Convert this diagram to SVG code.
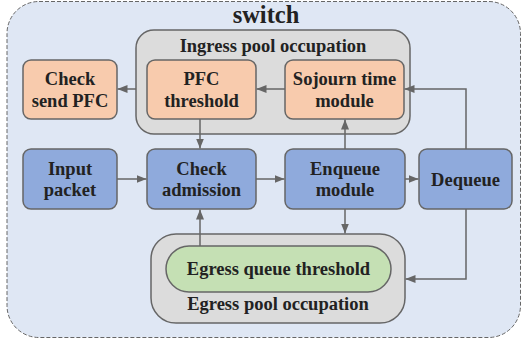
<svg xmlns="http://www.w3.org/2000/svg" width="523" height="345" viewBox="0 0 523 345">
  <defs>
    <marker id="arr" viewBox="0 0 10 8" refX="10" refY="4" markerWidth="10" markerHeight="8" markerUnits="userSpaceOnUse" orient="auto">
      <path d="M0,0 L10,4 L0,8 z" fill="#666666"/>
    </marker>
    <style>
      text { font-family: "Liberation Serif", "Times New Roman", serif; font-weight: bold; fill: #222222; text-anchor: middle; font-size: 18.5px; }
      .box { stroke: #666666; stroke-width: 1.5; }
      .blue { fill: #8faadc; }
      .orange { fill: #f8cbad; }
      .green { fill: #c5e0b4; }
      .pool { fill: #dcdcdc; stroke: #666666; stroke-width: 1.5; }
      .wire { fill: none; stroke: #666666; stroke-width: 1.5; marker-end: url(#arr); }
    </style>
  </defs>

  <!-- switch enclosure -->
  <g id="switch">
    <rect x="7" y="1.5" width="513.5" height="336" rx="32" fill="#dfe7f4" stroke="#666666" stroke-width="1" stroke-dasharray="4,2"/>
    <text x="266" y="23" style="font-size:24.5px">switch</text>
  </g>

  <!-- ingress pool -->
  <g id="ingress-pool">
    <rect class="pool" x="136" y="30" width="274" height="104" rx="18"/>
    <text x="273" y="52">Ingress pool occupation</text>
  </g>

  <!-- egress pool -->
  <g id="egress-pool">
    <rect class="pool" x="151" y="234" width="254" height="89" rx="25"/>
    <text x="278" y="310">Egress pool occupation</text>
  </g>

  <g id="check-send-pfc">
    <rect class="box orange" x="23" y="60" width="94" height="59" rx="8"/>
    <text x="70" y="85">Check</text>
    <text x="70" y="106.5">send PFC</text>
  </g>

  <g id="pfc-threshold">
    <rect class="box orange" x="147" y="60" width="109" height="59" rx="8"/>
    <text x="201.5" y="85">PFC</text>
    <text x="201.5" y="106.5">threshold</text>
  </g>

  <g id="sojourn-time">
    <rect class="box orange" x="285" y="60" width="119" height="59" rx="8"/>
    <text x="344.5" y="85">Sojourn time</text>
    <text x="344.5" y="106.5">module</text>
  </g>

  <g id="input-packet">
    <rect class="box blue" x="23" y="149" width="94" height="60" rx="8"/>
    <text x="70" y="174.5">Input</text>
    <text x="70" y="196">packet</text>
  </g>

  <g id="check-admission">
    <rect class="box blue" x="147" y="149" width="109" height="60" rx="8"/>
    <text x="201.5" y="174.5">Check</text>
    <text x="201.5" y="196">admission</text>
  </g>

  <g id="enqueue">
    <rect class="box blue" x="285" y="149" width="120" height="60" rx="8"/>
    <text x="345" y="174.5">Enqueue</text>
    <text x="345" y="196">module</text>
  </g>

  <g id="dequeue">
    <rect class="box blue" x="419" y="149" width="93" height="60" rx="8"/>
    <text x="465.5" y="185.5">Dequeue</text>
  </g>

  <g id="egress-threshold">
    <rect class="box green" x="166" y="246" width="225" height="46" rx="23"/>
    <text x="278.5" y="275">Egress queue threshold</text>
  </g>

  <!-- connectors -->
  <g id="connectors">
    <line class="wire" x1="136" y1="89" x2="117.5" y2="89"/>
    <line class="wire" x1="285" y1="89" x2="256.5" y2="89"/>
    <polyline class="wire" points="466,149 466,89 404.5,89"/>
    <line class="wire" x1="200" y1="119" x2="200" y2="148.5"/>
    <line class="wire" x1="345" y1="149" x2="345" y2="119.5"/>
    <line class="wire" x1="117" y1="179" x2="146.5" y2="179"/>
    <line class="wire" x1="256" y1="179" x2="284.5" y2="179"/>
    <line class="wire" x1="405" y1="179" x2="418.5" y2="179"/>
    <line class="wire" x1="200" y1="246" x2="200" y2="209.5"/>
    <line class="wire" x1="345" y1="209" x2="345" y2="233.5"/>
    <polyline class="wire" points="466,209 466,279 405.5,279"/>
  </g>
</svg>
